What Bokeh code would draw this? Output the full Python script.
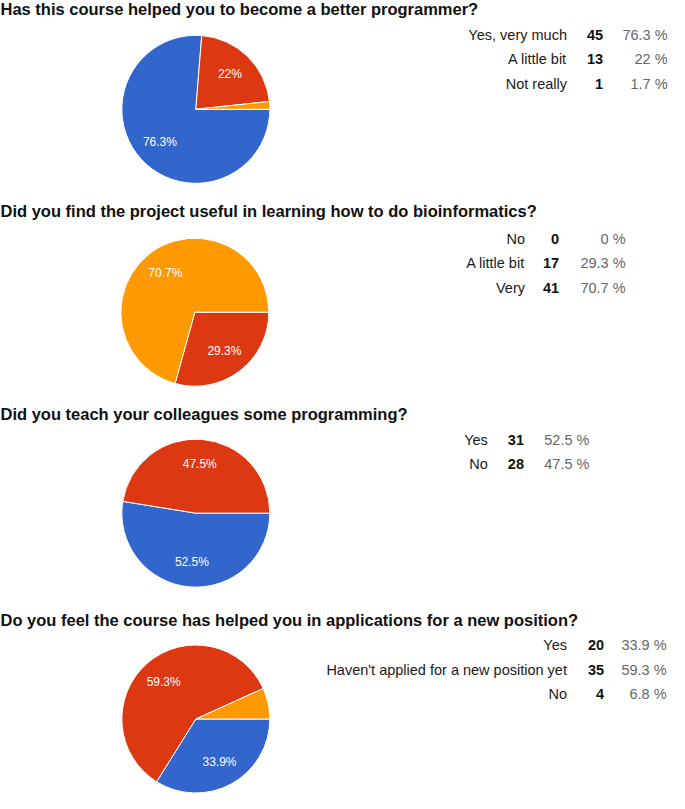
import math
from bokeh.plotting import figure
from bokeh.models import Range1d, ColumnDataSource
from bokeh.core.properties import value
from bokeh.embed import file_html
from bokeh.resources import INLINE

# ---------------- data ----------------
q1_title = "Has this course helped you to become a better programmer?"
q1_labels = ["Yes, very much", "A little bit", "Not really"]
q1_counts = [45, 13, 1]

q2_title = "Did you find the project useful in learning how to do bioinformatics?"
q2_labels = ["No", "A little bit", "Very"]
q2_counts = [0, 17, 41]

q3_title = "Did you teach your colleagues some programming?"
q3_labels = ["Yes", "No"]
q3_counts = [31, 28]

q4_title = "Do you feel the course has helped you in applications for a new position?"
q4_labels = ["Yes", "Haven't applied for a new position yet", "No"]
q4_counts = [20, 35, 4]

colors = ["#3366CC", "#DC3912", "#FF9900"]

# ---------------- layout (reference pixel space, y downward) ----------------
W, H = 685, 809
FIG_W, FIG_H = 669, 793
R_SCREEN = 74
questions = [
    # title, labels, counts, title_y, center, first_row_y, label_right, count_right, pct_right
    (q1_title, q1_labels, q1_counts, 9, (200, 111), 35, 580, 617, 683),
    (q2_title, q2_labels, q2_counts, 215, (199, 318), 243, 537, 572, 640),
    (q3_title, q3_labels, q3_counts, 422, (200, 523), 448, 499, 536, 603),
    (q4_title, q4_labels, q4_counts, 632, (200, 733), 658, 580, 618, 682),
]
ROW_GAP = 25

p = figure(width=FIG_W, height=FIG_H, output_backend="svg", toolbar_location=None,
           x_range=Range1d(0, W), y_range=Range1d(0, H), min_border=0)
p.axis.visible = False
p.grid.visible = False
p.outline_line_color = None
p.background_fill_color = "white"
p.border_fill_color = "white"

FONT = value("Liberation Sans")
ux = W / FIG_W  # data units per screen px (x)
uy = H / FIG_H


def fmt(v):
    s = f"{v:.1f}"
    return s[:-2] if s.endswith(".0") else s


for title, labels, counts, ty, (cx, cy), ry0, lr, cr, pr in questions:
    total = sum(counts)
    fr = [c / total for c in counts]
    cum = [0.0]
    for f in fr:
        cum.append(cum[-1] + f)
    # clockwise from 3 o'clock
    starts = [-2 * math.pi * cum[i + 1] for i in range(len(fr))]
    ends = [-2 * math.pi * cum[i] for i in range(len(fr))]
    keep = [i for i in range(len(fr)) if counts[i] > 0]
    src = ColumnDataSource(dict(
        x=[cx] * len(keep), y=[H - cy] * len(keep),
        s=[starts[i] for i in keep], e=[ends[i] for i in keep],
        c=[colors[i] for i in keep]))
    p.wedge(x="x", y="y", radius=R_SCREEN, radius_units="screen",
            start_angle="s", end_angle="e", fill_color="c",
            line_color="white", line_width=1, source=src)

    # slice labels
    lx, ly, lt = [], [], []
    for i in range(len(fr)):
        if fr[i] < 0.1:
            continue
        mid = 2 * math.pi * (cum[i] + cum[i + 1]) / 2
        d = 0.66 * R_SCREEN
        lx.append(cx + d * math.cos(mid) * ux)
        ly.append(H - (cy + d * math.sin(mid) * uy))
        lt.append(fmt(100 * fr[i]) + "%")
    p.text(x=lx, y=ly, text=lt, text_color="white", text_font=FONT,
           text_font_size="12px", text_align="center", text_baseline="middle")

    # title
    p.text(x=[0], y=[H - ty], text=[title], text_color="#111111", text_font=FONT,
           text_font_size="16.5px", text_font_style="bold",
           text_align="left", text_baseline="middle")

    # table
    ys = [H - (ry0 + k * ROW_GAP) for k in range(len(labels))]
    p.text(x=[lr] * len(labels), y=ys, text=labels, text_color="#1a1a1a",
           text_font=FONT, text_font_size="14.5px", text_align="right",
           text_baseline="middle")
    p.text(x=[cr] * len(labels), y=ys, text=[str(c) for c in counts],
           text_color="#111111", text_font=FONT, text_font_size="14.5px",
           text_font_style="bold", text_align="right", text_baseline="middle")
    p.text(x=[pr] * len(labels), y=ys, text=[fmt(100 * f) + " %" for f in fr],
           text_color="#666666", text_font=FONT, text_font_size="14.5px",
           text_align="right", text_baseline="middle")

open("out.html", "w").write(file_html(p, INLINE))
